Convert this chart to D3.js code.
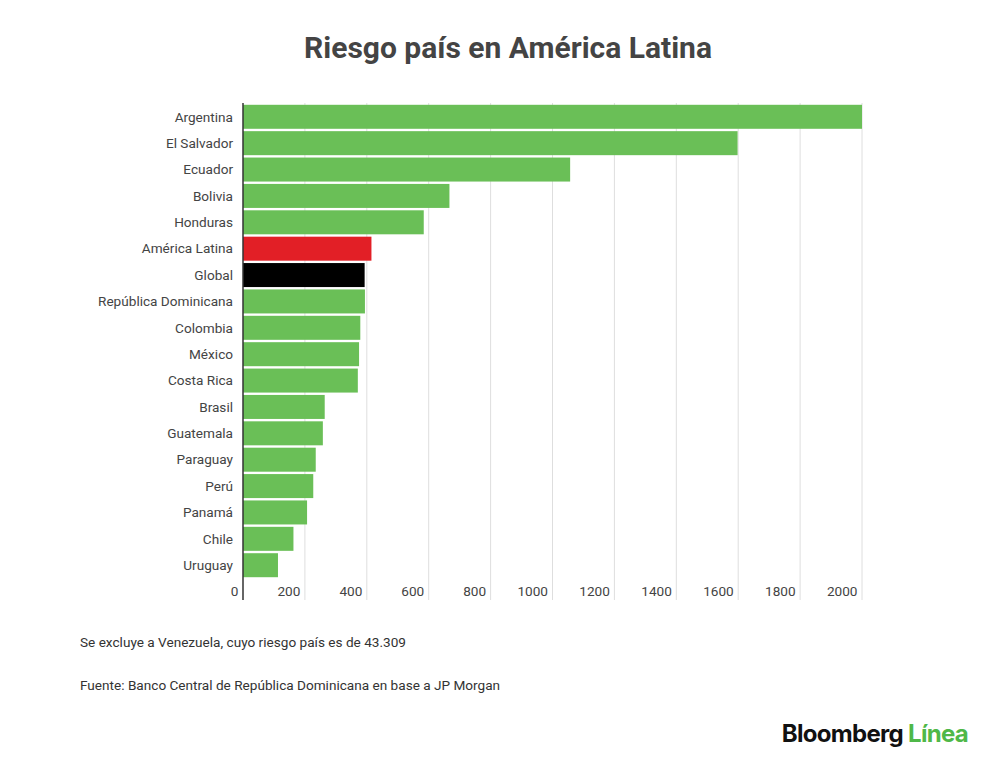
<!DOCTYPE html>
<html>
<head>
<meta charset="utf-8">
<script src="https://cdn.jsdelivr.net/npm/d3@7"></script>
<style>
  body { margin: 0; background: #fff; font-family: Roboto, sans-serif; }
</style>
</head>
<body>
<div id="chart"></div>
<script>
// data
let countries = ['Argentina', 'El Salvador', 'Ecuador', 'Bolivia', 'Honduras', 'América Latina', 'Global',
  'República Dominicana', 'Colombia', 'México', 'Costa Rica', 'Brasil', 'Guatemala', 'Paraguay',
  'Perú', 'Panamá', 'Chile', 'Uruguay'];
let riesgo = [2000, 1598, 1057, 667, 584, 415, 393, 394, 379, 375, 371, 264, 258, 235, 227, 207, 163, 113];
let xTicks = [0, 200, 400, 600, 800, 1000, 1200, 1400, 1600, 1800, 2000];

let width = 1000;
let height = 763;
let margin = { top: 103, right: 138, bottom: 185, left: 243 };

let svg = d3.select('#chart')
  .append('svg')
  .attr('width', width)
  .attr('height', height);

let data = countries.map((c, i) => ({ name: c, value: riesgo[i] }));

let x = d3.scaleLinear()
  .domain([0, 2000])
  .range([margin.left, width - margin.right]);

let y = d3.scaleBand()
  .domain(countries)
  .range([margin.top + 1, 578])
  .paddingInner(0.09)
  .paddingOuter(0.03);

// colour: highlight the regional and global averages
function barColor(d) {
  if (d.name === 'América Latina') return '#e21f26';
  if (d.name === 'Global') return '#000000';
  return '#6abf57';
}

// title
svg.append('text')
  .attr('x', 508)
  .attr('y', 58)
  .attr('text-anchor', 'middle')
  .attr('font-size', '30px')
  .attr('font-weight', 'bold')
  .attr('fill', '#444')
  .text('Riesgo país en América Latina');

// gridlines
svg.append('g')
  .selectAll('line')
  .data(xTicks.slice(1))
  .enter()
  .append('line')
  .attr('x1', d => x(d))
  .attr('x2', d => x(d))
  .attr('y1', margin.top)
  .attr('y2', 600)
  .attr('stroke', '#dedede')
  .attr('stroke-width', 1);

// bars
svg.append('g')
  .selectAll('rect')
  .data(data)
  .enter()
  .append('rect')
  .attr('x', x(0))
  .attr('y', d => y(d.name))
  .attr('width', d => x(d.value) - x(0))
  .attr('height', y.bandwidth())
  .attr('fill', barColor);

// category labels
svg.append('g')
  .selectAll('text')
  .data(data)
  .enter()
  .append('text')
  .attr('x', 233)
  .attr('y', d => y(d.name) + y.bandwidth() / 2)
  .attr('dy', '.35em')
  .attr('text-anchor', 'end')
  .attr('font-size', '13.6px')
  .attr('fill', '#444')
  .text(d => d.name);

// x tick labels, sitting just left of each gridline
let xAxis = d3.axisBottom(x)
  .tickValues(xTicks)
  .tickFormat(d3.format('d'))
  .tickSize(0)
  .tickPadding(0);

let gx = svg.append('g')
  .attr('transform', 'translate(0,' + 586 + ')')
  .call(xAxis);
gx.select('.domain').remove();
gx.selectAll('text')
  .attr('text-anchor', 'end')
  .attr('dx', '-5px')
  .attr('font-family', 'Roboto, sans-serif')
  .attr('font-size', '13.6px')
  .attr('fill', '#444');

// vertical axis line
svg.append('line')
  .attr('x1', x(0))
  .attr('x2', x(0))
  .attr('y1', margin.top)
  .attr('y2', 600)
  .attr('stroke', '#333')
  .attr('stroke-width', 1.5);

// notes
svg.append('text')
  .attr('x', 80)
  .attr('y', 647)
  .attr('font-size', '13.6px')
  .attr('fill', '#333')
  .text('Se excluye a Venezuela, cuyo riesgo país es de 43.309');

svg.append('text')
  .attr('x', 80)
  .attr('y', 690)
  .attr('font-size', '13.6px')
  .attr('fill', '#333')
  .text('Fuente: Banco Central de República Dominicana en base a JP Morgan');

// logo
let logo = svg.append('text')
  .attr('x', 968)
  .attr('y', 742)
  .attr('text-anchor', 'end')
  .attr('font-family', 'Inter, Roboto, sans-serif')
  .attr('font-size', '24px')
  .attr('font-weight', 'bold')
  .attr('letter-spacing', '-0.7px');
logo.append('tspan').attr('fill', '#111').text('Bloomberg ');
logo.append('tspan').attr('fill', '#4fb848').text('Línea');
</script>
</body>
</html>
